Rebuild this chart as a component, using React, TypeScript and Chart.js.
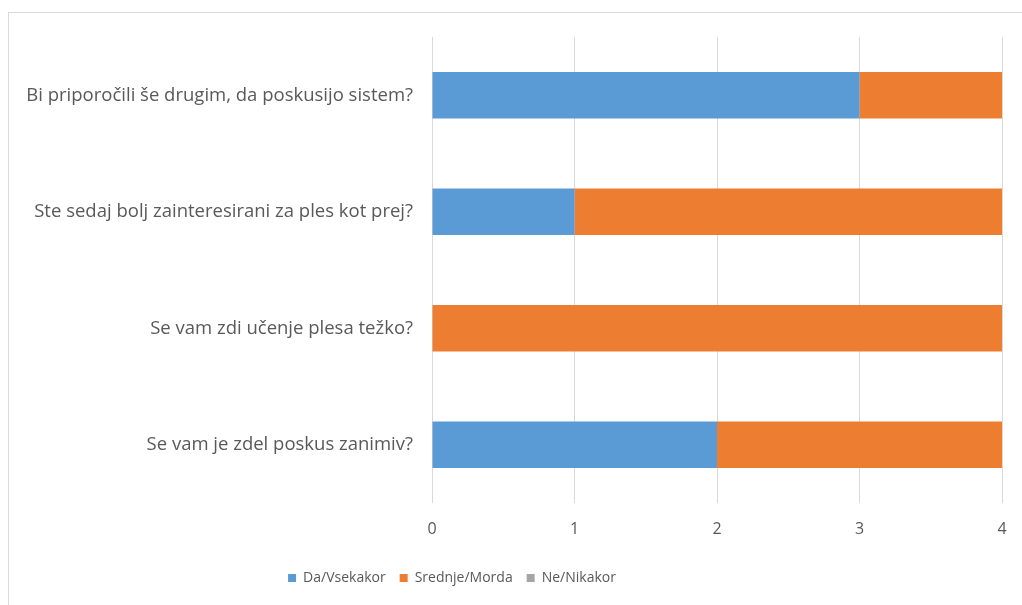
import React, { useEffect, useRef } from "react";
import { Chart, registerables } from "chart.js";

Chart.register(...registerables);

const categories = [
  "Bi priporočili še drugim, da poskusijo sistem?",
  "Ste sedaj bolj zainteresirani za ples kot prej?",
  "Se vam zdi učenje plesa težko?",
  "Se vam je zdel poskus zanimiv?",
];
const seriesNames = ["Da/Vsekakor", "Srednje/Morda", "Ne/Nikakor"];
const daValues = [3, 1, 0, 2];
const srednjeValues = [1, 3, 4, 2];
const neValues = [0, 0, 0, 0];
const xMin = 0;
const xMax = 4;
const xStep = 1;

const FONT_FAMILY = "'Open Sans'";
const TEXT_COLOR = "#595959";
const GRID_COLOR = "#d9d9d9";

export default function App() {
  const ref = useRef<HTMLCanvasElement>(null);

  useEffect(() => {
    document.body.style.overflow = "hidden";
    const legendShift = {
      id: "legendShift",
      beforeDraw(chart: any) {
        const lg = chart.legend;
        if (lg) {
          const w = lg.right - lg.left;
          const center = 452;
          lg.left = center - w / 2;
          lg.right = center + w / 2;
        }
      },
    };
    const chart = new Chart(ref.current!, {
      type: "bar",
      data: {
        labels: categories,
        datasets: [
          { label: seriesNames[0], data: daValues, backgroundColor: "#5B9BD5" },
          { label: seriesNames[1], data: srednjeValues, backgroundColor: "#ED7D31" },
          { label: seriesNames[2], data: neValues, backgroundColor: "#A5A5A5" },
        ],
      },
      options: {
        indexAxis: "y",
        responsive: false,
        animation: false,
        layout: { padding: { top: 37, right: 20, bottom: 10, left: 0 } },
        datasets: { bar: { categoryPercentage: 0.4, barPercentage: 1 } },
        scales: {
          x: {
            stacked: true,
            min: xMin,
            max: xMax,
            ticks: {
              stepSize: xStep,
              padding: 17,
              color: TEXT_COLOR,
              font: { family: FONT_FAMILY, size: 16 },
            },
            grid: { color: GRID_COLOR, drawTicks: false, lineWidth: 1 },
            border: { display: false },
            afterFit: (s: any) => {
              s.height = 54;
              s.paddingLeft = 0;
              s.paddingRight = 0;
            },
          },
          y: {
            stacked: true,
            grid: { display: false, drawTicks: false },
            border: { display: false },
            ticks: {
              padding: 19,
              color: TEXT_COLOR,
              font: { family: FONT_FAMILY, size: 18.5 },
            },
            afterFit: (s: any) => {
              s.width = 432;
              s.paddingTop = 0;
              s.paddingBottom = 0;
            },
          },
        },
        plugins: {
          legend: {
            position: "bottom",
            labels: {
              boxWidth: 8,
              boxHeight: 8,
              padding: 14,
              color: TEXT_COLOR,
              font: { family: FONT_FAMILY, size: 14 },
            },
          },
          tooltip: { enabled: false },
        },
      } as any,
      plugins: [legendShift],
    });
    return () => chart.destroy();
  }, []);

  return (
    <div>
      <div
        style={{
          position: "fixed",
          left: 8,
          top: 12,
          width: 1100,
          height: 700,
          border: `1px solid ${GRID_COLOR}`,
          background: "#fff",
        }}
      />
      <canvas
        ref={ref}
        width={1022}
        height={605}
        style={{ position: "fixed", left: 0, top: 0, width: 1022, height: 605 }}
      />
    </div>
  );
}
